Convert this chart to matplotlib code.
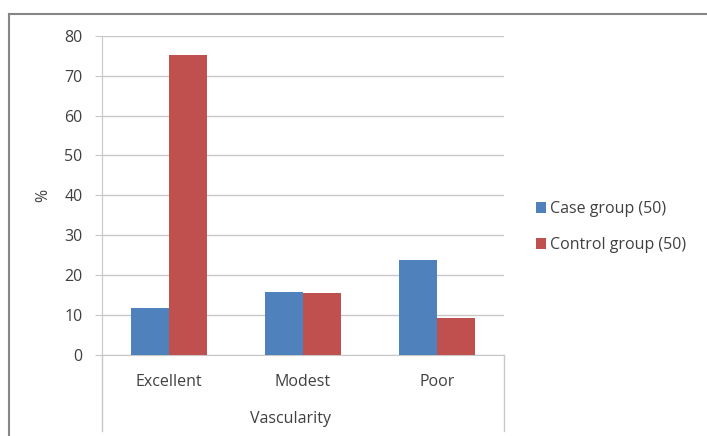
import matplotlib
matplotlib.use("Agg")
import matplotlib.pyplot as plt
from matplotlib.lines import Line2D
import numpy as np

categories = ["Excellent", "Modest", "Poor"]
case_vals = [11.8, 15.8, 23.8]
control_vals = [75.1, 15.6, 9.2]
series_names = ["Case group (50)", "Control group (50)"]
yticks = [0, 10, 20, 30, 40, 50, 60, 70, 80]
group_label = "Vascularity"
y_label = "%"

plt.rcParams['font.family'] = ['Open Sans', 'DejaVu Sans']
W, H = 707, 436
FS = 11.5
fig = plt.figure(figsize=(W / 100, H / 100), dpi=100)
fig.patch.set_facecolor("white")

x0, x1 = 101.7, 504.0
y0, y1 = 355.0, 35.7
ax = fig.add_axes([x0 / W, 1 - y0 / H, (x1 - x0) / W, (y0 - y1) / H])

axis_col = "#868686"
grid_col = "#c8c8c8"
txt_col = "#404040"
blue = "#4F81BD"
red = "#C0504D"

x = np.arange(len(categories))
bw = 0.284
ax.bar(x - bw / 2, case_vals, bw, color=blue, label=series_names[0], zorder=3)
ax.bar(x + bw / 2, control_vals, bw, color=red, label=series_names[1], zorder=3)

ax.set_xlim(-0.5, len(categories) - 0.5)
ax.set_ylim(0, 80)
ax.set_yticks(yticks)
ax.yaxis.grid(True, color=grid_col, linewidth=1.0, zorder=0)
ax.set_axisbelow(True)
for s in ["top", "right"]:
    ax.spines[s].set_visible(False)
ax.spines["left"].set_color(grid_col)
ax.spines["bottom"].set_color(grid_col)
ax.tick_params(axis="y", length=4.7, color=grid_col, labelsize=FS, labelcolor=txt_col, pad=9)
ax.tick_params(axis="x", length=0, labelsize=FS, labelcolor=txt_col, pad=13.5)
ax.set_xticks(x)
ax.set_xticklabels(categories)

ax.text((43 - x0) / (x1 - x0), 0.5, y_label, transform=ax.transAxes, rotation=90,
        ha="center", va="center", fontsize=FS, color=txt_col)
ax.text(0.47, -(419 - y0) / (y0 - y1), group_label, transform=ax.transAxes,
        ha="center", va="center", fontsize=FS, color=txt_col)

# extended category-axis box lines
ybot = -(431 - y0) / (y0 - y1)
for xa in (0.0, 1.0):
    ax.add_line(Line2D([xa, xa], [0, ybot], transform=ax.transAxes,
                       color=grid_col, linewidth=1.0, clip_on=False))

# outer chart frame (left and top visible)
fig.add_artist(Line2D([9 / W, 9 / W], [0, 1 - 14 / H], transform=fig.transFigure,
                      color=axis_col, linewidth=1.5))
fig.add_artist(Line2D([9 / W, 1], [1 - 14 / H, 1 - 14 / H], transform=fig.transFigure,
                      color=axis_col, linewidth=1.5))

fs_px = FS * 100 / 72
leg = fig.legend(loc="center left", bbox_to_anchor=((536 - 0.9 * fs_px) / W, 1 - 227 / H),
                 frameon=False, fontsize=FS, handlelength=10 / fs_px, handleheight=10 / fs_px,
                 handletextpad=4 / fs_px, labelspacing=(36 - fs_px) / fs_px,
                 labelcolor=txt_col)

fig.savefig("out.png", dpi=100, facecolor="white")
